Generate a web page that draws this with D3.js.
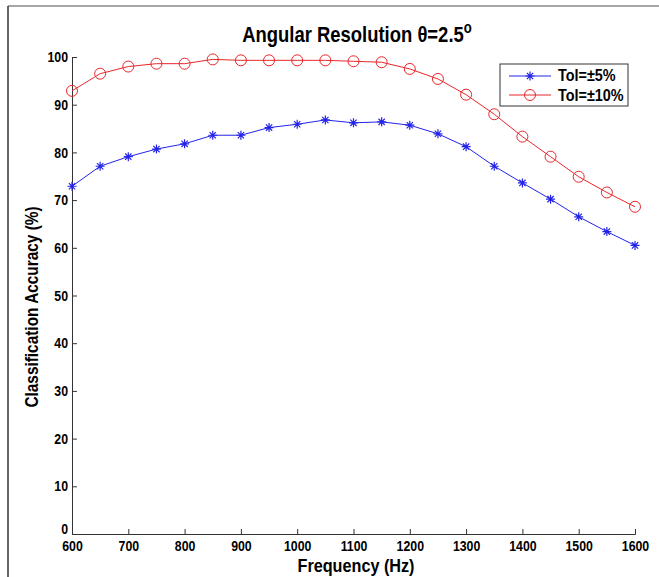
<!DOCTYPE html>
<html><head><meta charset="utf-8">
<script src="https://cdn.jsdelivr.net/npm/d3@7/dist/d3.min.js"></script>
<style>body{margin:0;background:#fff}svg{display:block}text{font-family:"Liberation Sans",Arial,sans-serif;font-weight:bold}</style>
</head><body>
<svg id="c" width="659" height="577"></svg>
<script>
const freqs = [600,650,700,750,800,850,900,950,1000,1050,1100,1150,1200,1250,1300,1350,1400,1450,1500,1550,1600];
const tol5  = [72.9,77.1,79.1,80.7,81.8,83.6,83.6,85.2,85.9,86.8,86.2,86.4,85.7,83.9,81.2,77.1,73.6,70.2,66.5,63.4,60.5];
const tol10 = [92.9,96.5,98.0,98.6,98.6,99.5,99.3,99.3,99.3,99.3,99.1,98.9,97.5,95.4,92.1,88.0,83.3,79.1,74.9,71.6,68.6];
const xTicks = [600,700,800,900,1000,1100,1200,1300,1400,1500,1600];
const yTicks = [0,10,20,30,40,50,60,70,80,90,100];
const seriesNames = ["Tol=\u00b15%","Tol=\u00b110%"];
const FONT = "'Liberation Sans',Arial,sans-serif";

const svg = d3.select("#c");
svg.append("line").attr("x1",8).attr("y1",6).attr("x2",659).attr("y2",6).attr("stroke","#888").attr("stroke-width",1.5);
svg.append("line").attr("x1",8).attr("y1",6).attr("x2",8).attr("y2",577).attr("stroke","#333").attr("stroke-width",1.5);

const x = d3.scaleLinear().domain([600,1600]).range([72,635]);
const y = d3.scaleLinear().domain([0,100]).range([534,57]);

const xa = svg.append("g").attr("transform","translate(0,534)")
  .call(d3.axisBottom(x).tickValues(xTicks).tickSize(-5).tickPadding(9).tickFormat(d3.format("d")));
const ya = svg.append("g").attr("transform","translate(72,0)")
  .call(d3.axisLeft(y).tickValues(yTicks).tickSize(-5).tickPadding(4));
[xa,ya].forEach(a=>{
  a.select(".domain").attr("stroke","#333");
  a.selectAll(".tick line").attr("stroke","#333");
  a.selectAll("text").attr("fill","#000").style("font-size","14.5px").style("font-weight","bold").style("font-family",FONT);
});
xa.selectAll(".tick text").attr("dy","0.55em").attr("transform","scale(0.85,1)");
ya.selectAll(".tick text").attr("x",-4/0.85).attr("transform","scale(0.85,1)");
ya.selectAll(".tick text").filter(d=>d===0).attr("dy","-0.05em");

const line = d3.line().x((d,i)=>x(freqs[i])).y(d=>y(d));
svg.append("path").datum(tol10).attr("d",line).attr("fill","none").attr("stroke","#e8262a").attr("stroke-width",1);
svg.append("path").datum(tol5).attr("d",line).attr("fill","none").attr("stroke","#2424e8").attr("stroke-width",1);

function star(g,cx,cy,s,col){
  const p = `M${cx-s},${cy}L${cx+s},${cy}M${cx},${cy-s}L${cx},${cy+s}M${cx-s*0.7},${cy-s*0.7}L${cx+s*0.7},${cy+s*0.7}M${cx-s*0.7},${cy+s*0.7}L${cx+s*0.7},${cy-s*0.7}`;
  g.append("path").attr("d",p).attr("stroke",col).attr("stroke-width",1.2).attr("fill","none");
}
const gm = svg.append("g");
tol10.forEach((v,i)=>gm.append("circle").attr("cx",x(freqs[i])).attr("cy",y(v)).attr("r",5.5).attr("fill","none").attr("stroke","#e8262a").attr("stroke-width",1));
tol5.forEach((v,i)=>star(gm,x(freqs[i]),y(v),4.5,"#2424e8"));

const t = svg.append("text").attr("transform","translate(357,42) scale(0.82,1)").attr("text-anchor","middle").style("font-size","22.5px");
t.append("tspan").text("Angular Resolution \u03b8=2.5");
t.append("tspan").attr("dy","-9").style("font-size","16px").text("o");

svg.append("text").attr("transform","translate(356,572) scale(0.9,1)").attr("text-anchor","middle").style("font-size","18px").text("Frequency (Hz)");
svg.append("text").attr("transform","translate(38,307) rotate(-90) scale(0.88,1)").attr("text-anchor","middle").style("font-size","17.5px").text("Classification Accuracy (%)");

const lg = svg.append("g");
lg.append("rect").attr("x",500).attr("y",64).attr("width",128).attr("height",42).attr("fill","#fff").attr("stroke","#333").attr("stroke-width",1);
lg.append("line").attr("x1",509).attr("x2",551).attr("y1",76).attr("y2",76).attr("stroke","#2424e8");
star(lg,530,76,4.5,"#2424e8");
lg.append("line").attr("x1",509).attr("x2",551).attr("y1",95).attr("y2",95).attr("stroke","#e8262a");
lg.append("circle").attr("cx",530).attr("cy",95).attr("r",5.5).attr("fill","none").attr("stroke","#e8262a");
lg.append("text").attr("transform","translate(558,81) scale(0.9,1)").style("font-size","16px").text(seriesNames[0]);
lg.append("text").attr("transform","translate(558,101) scale(0.9,1)").style("font-size","16px").text(seriesNames[1]);
</script>
</body></html>
